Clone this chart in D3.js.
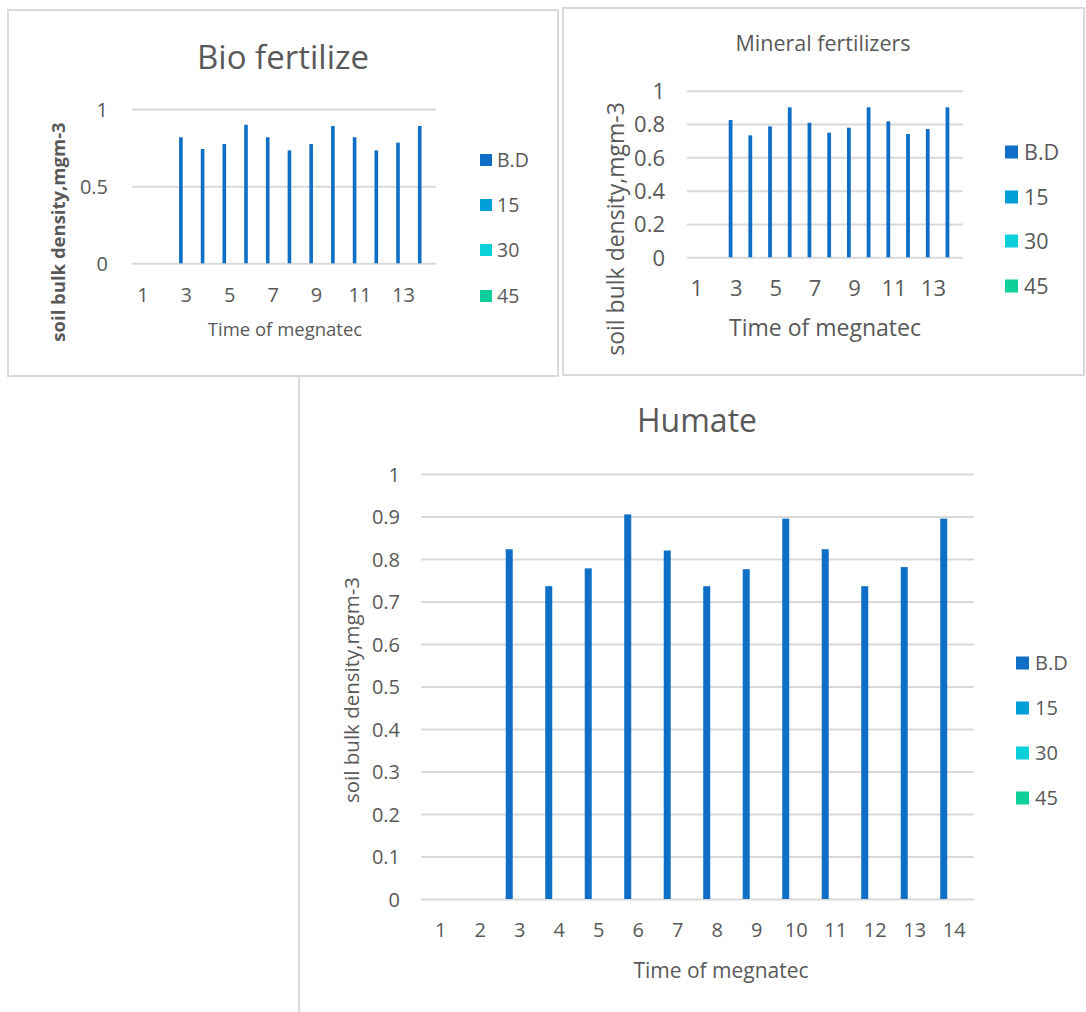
<!DOCTYPE html>
<html>
<head>
<meta charset="utf-8">
<script src="https://cdn.jsdelivr.net/npm/d3@7"></script>
<style>
  body { margin: 0; background: #fff; }
  svg text { font-family: "Open Sans", "Noto Sans", sans-serif; fill: #595959; }
</style>
</head>
<body>
<div id="chart"></div>
<script>
// Three grouped-bar panels (Excel style), only the B.D series carries values.

const categories = [1, 2, 3, 4, 5, 6, 7, 8, 9, 10, 11, 12, 13, 14];
const seriesNames = ["B.D", "15", "30", "45"];
const seriesColors = ["#0F6FC6", "#009DD9", "#0BD0D9", "#10CF9B"];

const bioBD = [null, null, 0.817, 0.741, 0.773, 0.898, 0.817, 0.732, 0.773, 0.890, 0.817, 0.732, 0.782, 0.890];
const mineralBD = [null, null, 0.824, 0.732, 0.786, 0.900, 0.808, 0.748, 0.778, 0.900, 0.816, 0.740, 0.770, 0.900];
const humateBD = [null, null, 0.823, 0.736, 0.778, 0.905, 0.820, 0.736, 0.776, 0.895, 0.823, 0.736, 0.781, 0.895];

const bioTicks = [0, 0.5, 1];
const mineralTicks = [0, 0.2, 0.4, 0.6, 0.8, 1];
const humateTicks = [0, 0.1, 0.2, 0.3, 0.4, 0.5, 0.6, 0.7, 0.8, 0.9, 1];

const oddXLabels = [1, 3, 5, 7, 9, 11, 13];
const humateXLabels = categories;

const W = 1086, H = 1012;
const GRID = "#d9d9d9";

const svg = d3.select("#chart").append("svg")
  .attr("width", W)
  .attr("height", H)
  .attr("viewBox", `0 0 ${W} ${H}`);

// panel frames
svg.append("rect").attr("x", 8).attr("y", 10).attr("width", 550).attr("height", 366)
  .attr("fill", "none").attr("stroke", GRID).attr("stroke-width", 2);
svg.append("rect").attr("x", 563).attr("y", 8).attr("width", 521).attr("height", 367)
  .attr("fill", "none").attr("stroke", GRID).attr("stroke-width", 2);
svg.append("line").attr("x1", 299).attr("x2", 299).attr("y1", 376).attr("y2", H)
  .attr("stroke", GRID).attr("stroke-width", 2);

const panels = [
  {
    title: "Bio fertilize", values: bioBD, ticks: bioTicks, xLabels: oddXLabels,
    x0: 132, x1: 436, yTop: 109, yBottom: 263.3, pad: 0.335,
    titleX: 283, titleY: 57, titleSize: 33,
    tickSize: 20, tickRight: 108, xLabelY: 295,
    yTitle: { x: 59, y: 232, size: 18.5, weight: 700 },
    xTitle: { x: 285, y: 330, size: 18.5 },
    legend: { x: 480, ys: [160, 205, 250, 296], box: 12, size: 19.5, gap: 5 },
  },
  {
    title: "Mineral fertilizers", values: mineralBD, ticks: mineralTicks, xLabels: oddXLabels,
    x0: 687, x1: 963, yTop: 90.7, yBottom: 257.3, pad: 0.23,
    titleX: 823, titleY: 43, titleSize: 21.5,
    tickSize: 22, tickRight: 665, xLabelY: 288,
    yTitle: { x: 616, y: 229, size: 23, weight: 400 },
    xTitle: { x: 825, y: 328, size: 23 },
    legend: { x: 1005, ys: [152, 197, 241, 286], box: 13, size: 21.5, gap: 6 },
  },
  {
    title: "Humate", values: humateBD, ticks: humateTicks, xLabels: humateXLabels,
    x0: 421, x1: 974, yTop: 474, yBottom: 899, pad: 0.29,
    titleX: 697, titleY: 421, titleSize: 32,
    tickSize: 20, tickRight: 400, xLabelY: 930,
    yTitle: { x: 352, y: 690, size: 20.5, weight: 400 },
    xTitle: { x: 721, y: 971, size: 21 },
    legend: { x: 1016, ys: [663, 708, 753, 798], box: 13, size: 20, gap: 6 },
  },
];

panels.forEach((p) => drawPanel(p));

function drawPanel(p) {
  const g = svg.append("g");

  const x = d3.scaleBand()
    .domain(categories)
    .range([p.x0, p.x1])
    .paddingInner(p.pad)
    .paddingOuter(p.pad / 2);
  const xs = d3.scaleBand().domain(seriesNames).range([0, x.bandwidth()]);
  const y = d3.scaleLinear().domain([0, 1]).range([p.yBottom, p.yTop]);

  // ─── gridlines + y tick labels ───────────────────────────────────────
  const yAxis = g.append("g")
    .attr("transform", `translate(${p.x0},0)`)
    .call(d3.axisLeft(y).tickValues(p.ticks).tickSize(-(p.x1 - p.x0)).tickPadding(0).tickFormat((d) => String(d)));
  yAxis.select(".domain").remove();
  yAxis.selectAll(".tick line").attr("stroke", GRID).attr("stroke-width", 2);
  yAxis.selectAll(".tick text")
    .attr("x", p.tickRight - p.x0)
    .attr("dy", "0.35em")
    .attr("font-size", p.tickSize)
    .attr("fill", "#595959");

  // ─── x labels ────────────────────────────────────────────────────────
  const xAxis = g.append("g")
    .attr("transform", `translate(0,${p.xLabelY})`)
    .call(d3.axisBottom(x).tickValues(p.xLabels).tickSize(0).tickPadding(0));
  xAxis.select(".domain").remove();
  xAxis.selectAll(".tick text")
    .attr("y", 0)
    .attr("dy", "0.35em")
    .attr("font-size", p.tickSize)
    .attr("fill", "#595959");

  // ─── bars (only B.D has values) ──────────────────────────────────────
  const rows = categories.map((c, i) => ({ cat: c, value: p.values[i] }))
    .filter((d) => d.value != null);
  g.append("g").selectAll("rect")
    .data(rows)
    .join("rect")
    .attr("x", (d) => x(d.cat) + xs("B.D"))
    .attr("width", xs.bandwidth())
    .attr("y", (d) => y(d.value))
    .attr("height", (d) => y(0) - y(d.value))
    .attr("fill", seriesColors[0]);

  // ─── titles ──────────────────────────────────────────────────────────
  g.append("text")
    .attr("x", p.titleX).attr("y", p.titleY)
    .attr("text-anchor", "middle").attr("dy", "0.35em")
    .attr("font-size", p.titleSize)
    .text(p.title);

  g.append("text")
    .attr("transform", `translate(${p.yTitle.x},${p.yTitle.y}) rotate(-90)`)
    .attr("text-anchor", "middle").attr("dy", "0.35em")
    .attr("font-size", p.yTitle.size)
    .attr("font-weight", p.yTitle.weight)
    .attr("fill", p.yTitle.weight > 400 ? "#404040" : "#595959")
    .text("soil bulk density,mgm-3");

  g.append("text")
    .attr("x", p.xTitle.x).attr("y", p.xTitle.y)
    .attr("text-anchor", "middle").attr("dy", "0.35em")
    .attr("font-size", p.xTitle.size)
    .text("Time of megnatec");

  // ─── legend ──────────────────────────────────────────────────────────
  const lg = g.append("g").selectAll("g")
    .data(seriesNames)
    .join("g")
    .attr("transform", (d, i) => `translate(${p.legend.x},${p.legend.ys[i]})`);
  lg.append("rect")
    .attr("x", 0).attr("y", -p.legend.box / 2)
    .attr("width", p.legend.box).attr("height", p.legend.box)
    .attr("fill", (d, i) => seriesColors[i]);
  lg.append("text")
    .attr("x", p.legend.box + p.legend.gap)
    .attr("dy", "0.35em")
    .attr("font-size", p.legend.size)
    .text((d) => d);
}
</script>
</body>
</html>
